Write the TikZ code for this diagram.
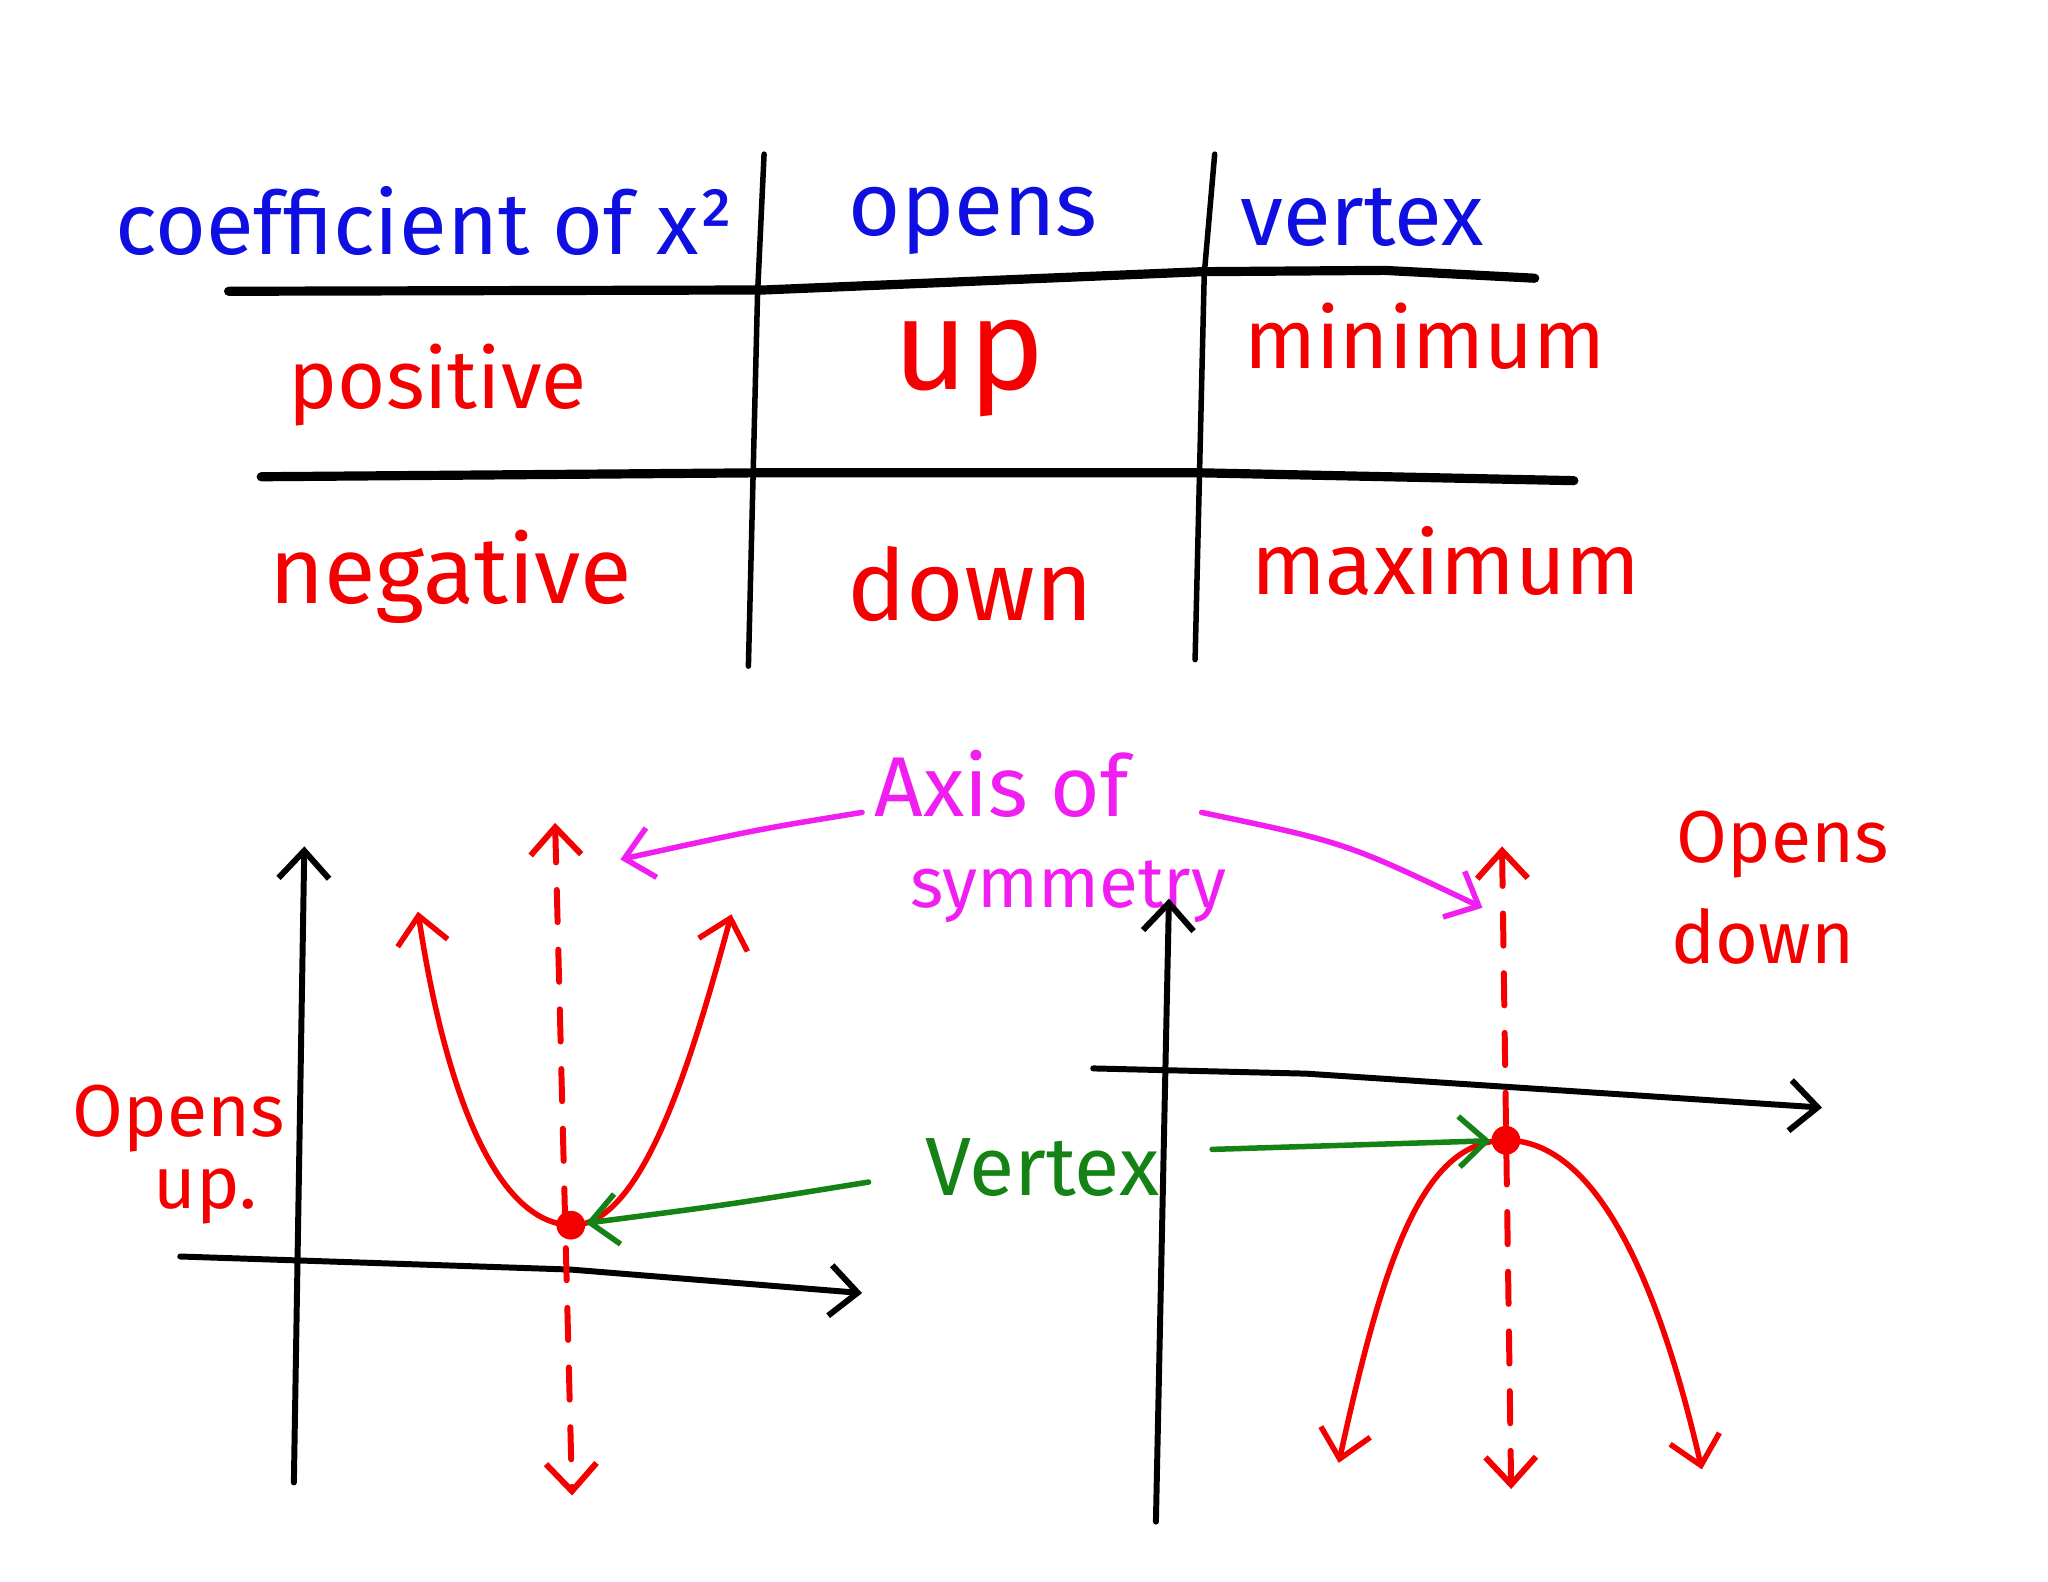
\documentclass[tikz,border=0pt]{standalone}
\usepackage{fontspec}
\setmainfont{Fira Sans}
\usetikzlibrary{arrows.meta}
\definecolor{hblue}{RGB}{15,15,225}
\definecolor{hred}{RGB}{245,0,0}
\definecolor{hmag}{RGB}{240,30,240}
\definecolor{hgreen}{RGB}{20,130,20}
\newcommand\fsz[1]{\fontsize{#1}{#1}\selectfont}
\begin{document}
\begin{tikzpicture}[x=0.01cm,y=-0.01cm,line cap=round,line join=round,
  txt/.style={anchor=base,inner sep=0pt},
  hline/.style={line width=2pt,black},
  vline/.style={line width=1.2pt,black},
  axisline/.style={line width=1.3pt,black},
  barb/.style={line width=1.2pt},
  tipend/.style={-{Straight Barb[length=6pt,width=11pt]}},
  tipboth/.style={{Straight Barb[length=6pt,width=11pt]}-{Straight Barb[length=6pt,width=11pt]}},
  curve/.style={hred,line width=1.2pt},
  symline/.style={hred,line width=1.3pt,dash pattern=on 7pt off 6pt},
  dot/.style={circle,fill=hred,inner sep=0pt,minimum size=0.22cm}]
\fill[white] (0,0) rectangle (1568,1211);
\useasboundingbox (0,0) rectangle (1568,1211);

% ---------------- table ----------------
\coordinate (v1t) at (585,118); \coordinate (v1m) at (580,225); \coordinate (v1b) at (573,510);
\coordinate (v2t) at (930,118); \coordinate (v2m) at (922,210); \coordinate (v2b) at (915,505);
\draw[vline] (v1t) -- (v1m) -- (v1b);
\draw[vline] (v2t) -- (v2m) -- (v2b);
\coordinate (h1a) at (175,223); \coordinate (h1b) at (585,222); \coordinate (h1c) at (920,208);
\coordinate (h1d) at (1060,207); \coordinate (h1e) at (1175,213);
\draw[hline] (h1a) -- (h1b) -- (h1c) -- (h1d) -- (h1e);
\coordinate (h2a) at (200,365); \coordinate (h2b) at (580,362); \coordinate (h2c) at (920,362);
\coordinate (h2d) at (1205,368);
\draw[hline] (h2a) -- (h2b) -- (h2c) -- (h2d);

\node[txt,hblue,font=\fsz{19}] (hcoef) at (325,195) {coefficient of x²};
\node[txt,hblue,font=\fsz{19.5}] (hopens) at (745,180) {opens};
\node[txt,hblue,font=\fsz{19}] (hvertex) at (1043,188) {vertex};

\node[txt,hred,font=\fsz{18}] (tpos) at (335,313) {positive};
\node[txt,hred,font=\fsz{28}] (tup) at (742,298) {up};
\node[txt,hred,font=\fsz{18.3}] (tmin) at (1091,282) {minimum};
\node[txt,hred,font=\fsz{20.5}] (tneg) at (345,462) {negative};
\node[txt,hred,font=\fsz{21.5}] (tdown) at (743,475) {down};
\node[txt,hred,font=\fsz{19}] (tmax) at (1107,455) {maximum};

% ---------------- left graph ----------------
\coordinate (yLb) at (225,1135); \coordinate (yLt) at (233,648);
\draw[axisline,tipend] (yLb) -- (yLt);
\coordinate (xLa) at (138,962); \coordinate (xLm) at (437,972); \coordinate (xLb) at (660,990);
\draw[axisline,tipend] (xLa) -- (xLm) -- (xLb);

\coordinate (aLt) at (425,630); \coordinate (aLb) at (438,1145);
\draw[symline,tipboth] (aLt) -- (aLb);

\coordinate (pLl) at (320,698); \coordinate (vxL) at (437,938); \coordinate (pLr) at (560,700);
\draw[curve,tipboth] (pLl) .. controls (340,830) and (378,936) .. (vxL)
  .. controls (492,940) and (530,810) .. (pLr);
\node[dot] (vdotL) at (vxL) {};

\node[txt,hred,font=\fsz{16}] (oupA) at (137,870) {Opens};
\node[txt,hred,font=\fsz{16}] (oupB) at (157,925) {up.};

% ---------------- labels in the middle ----------------
\node[txt,hmag,font=\fsz{18.5}] (axA) at (767,625) {Axis of};
\node[txt,hmag,font=\fsz{15.5}] (axB) at (818,695) {symmetry};
\coordinate (m1s) at (660,622); \coordinate (m1e) at (475,658);
\draw[hmag,barb,tipend] (m1s) .. controls (580,635) .. (m1e);
\coordinate (m2s) at (920,622); \coordinate (m2e) at (1135,695);
\draw[hmag,barb,tipend] (m2s) .. controls (1030,645) .. (m2e);

\node[txt,hgreen,font=\fsz{18}] (vlab) at (798,915) {Vertex};
\coordinate (gL) at (665,905);
\draw[hgreen,barb,tipend] (gL) .. controls (560,922) .. (vdotL);

% ---------------- right graph ----------------
\coordinate (yRb) at (885,1165); \coordinate (yRt) at (895,688);
\draw[axisline,tipend] (yRb) -- (yRt);
\coordinate (xRa) at (837,818); \coordinate (xRm) at (1000,822); \coordinate (xRb) at (1395,848);
\draw[axisline,tipend] (xRa) -- (xRm) -- (xRb);

\coordinate (aRt) at (1150,648); \coordinate (aRb) at (1157,1140);
\draw[symline,tipboth] (aRt) -- (aRb);

\coordinate (pRl) at (1025,1120); \coordinate (vxR) at (1153,873); \coordinate (pRr) at (1303,1125);
\draw[curve,tipboth] (pRl) .. controls (1060,960) and (1090,873) .. (vxR)
  .. controls (1215,873) and (1265,960) .. (pRr);
\node[dot] (vdotR) at (vxR) {};

\coordinate (gR) at (928,880);
\draw[hgreen,barb,tipend] (gR) -- (vdotR);

\node[txt,hred,font=\fsz{16}] (odnA) at (1365,660) {Opens};
\node[txt,hred,font=\fsz{16}] (odnB) at (1350,738) {down};
\end{tikzpicture}
\end{document}
